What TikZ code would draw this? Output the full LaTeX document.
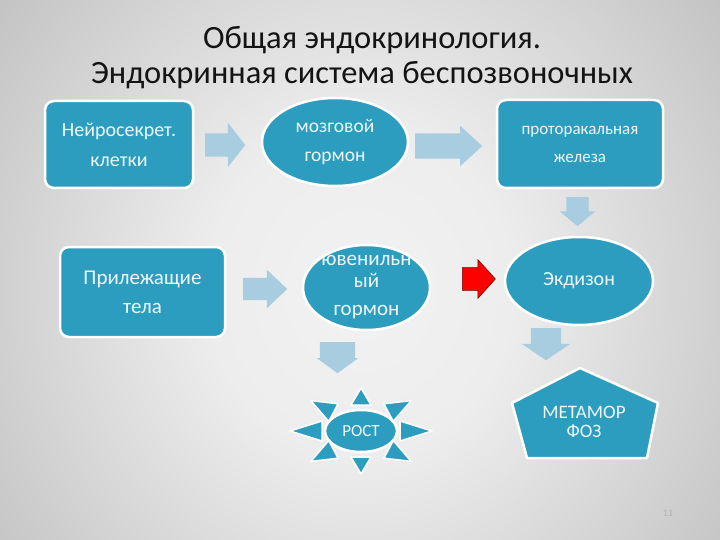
\documentclass[tikz,border=0pt]{standalone}
\usepackage{fontspec}
\setmainfont{Carlito}
\usepackage{tikz}
\usetikzlibrary{shapes.geometric, shapes.arrows, calc}
\definecolor{boxteal}{HTML}{2C9DBF}
\definecolor{arrowblue}{HTML}{A8CCE0}
\definecolor{labelwhite}{HTML}{EEF8FB}
\definecolor{titleblack}{HTML}{141414}
\definecolor{bgin}{HTML}{F2F2F2}
\definecolor{bgmid}{HTML}{EDEDED}
\definecolor{bgout}{HTML}{989898}
\definecolor{bgedge}{HTML}{828282}
\pgfdeclareradialshading{slidebg}{\pgfpoint{0bp}{0bp}}{color(0bp)=(bgin); color(10bp)=(bgmid); color(50bp)=(bgout); color(75bp)=(bgedge)}
\tikzset{cellbox/.style={rectangle,draw=white,line width=2.5pt,fill=boxteal,rounded corners=9pt,text=labelwhite,align=center},
         cellround/.style={ellipse,draw=white,line width=2.5pt,fill=boxteal,inner sep=0pt},
         cellshape/.style={draw=white,line width=2.5pt,fill=boxteal,line join=round},
         celltext/.style={text=labelwhite,align=center},
         ray/.style={draw=white,line width=1.5pt,fill=boxteal,line join=round},
         blockarrow/.style={single arrow,draw=none,fill=arrowblue,inner xsep=0pt,anchor=tail},
         titletext/.style={text=titleblack,font=\fontsize{32.5}{35}\selectfont}}

\begin{document}
\begin{tikzpicture}[x=1pt,y=-1pt]
    % Slide background
    \useasboundingbox (0,0) rectangle (720,540);
    \begin{scope}
      \clip (0,0) rectangle (720,540);
      \shade[shading=slidebg] (-20,-120) rectangle (740,700);
    \end{scope}
    % Title
    \node (title1) [titletext] at (372,40) {Общая эндокринология.};
    \node (title2) [titletext] at (362,75) {Эндокринная система беспозвоночных};
    % Top row
    \node (neuro) [cellbox, minimum width=148pt, minimum height=87pt, font=\fontsize{20}{30}\selectfont] at (119,144.5) {Нейросекрет.\\клетки};
    \node (brain) [cellround, minimum width=146pt, minimum height=88pt] at (335,142) {};
    \node (brainlabel) [celltext, font=\fontsize{19.5}{29}\selectfont] at (brain) {мозговой\\гормон};
    \node (gland) [cellbox, minimum width=166pt, minimum height=88pt, font=\fontsize{17}{28}\selectfont] at (580,144) {проторакальная\\железа};
    % Middle row
    \node (corpora) [cellbox, minimum width=165pt, minimum height=90pt, font=\fontsize{21}{29}\selectfont] at (142.5,292) {Прилежащие\\тела};
    \node (juvenile) [cellround, minimum width=127pt, minimum height=85pt] at (366.5,287.5) {};
    \node (juvenilelabel) [celltext, font=\fontsize{21}{22}\selectfont] at (juvenile) {ювенильн\\ый\\[6pt]гормон};
    \node (ecdysone) [cellround, minimum width=148pt, minimum height=88pt] at (579,281) {};
    \node (ecdysonelabel) [celltext, font=\fontsize{20}{24}\selectfont] at (ecdysone) {Экдизон};
    % Growth (sun)
    \coordinate (star) at (361,431);
    \foreach \a in {0,45,...,315} {
      \path ($(star)+(\a:71pt and 43pt)$) coordinate (raytip)
            ($(star)+(\a:39pt and 26pt)$) coordinate (raybase);
      \draw[ray] ($(raybase)!10pt!90:(raytip)$) -- (raytip) -- ($(raybase)!10pt!-90:(raytip)$) -- cycle;
    }
    \node (growth) [cellround, minimum width=72pt, minimum height=42pt] at (star) {};
    \node (growthlabel) [celltext, font=\fontsize{17}{20}\selectfont] at (growth) {РОСТ};
    % Metamorphosis (pentagon)
    \draw[cellshape] (580,368) -- (658,403) -- (647,458) -- (527,458) -- (512,403) -- cycle;
    \node (metamorph) [celltext, font=\fontsize{19}{19}\selectfont] at (584,422) {МЕТАМОР\\ФОЗ};
    % Block arrows
    \node (arr1) [blockarrow, minimum height=40pt, inner ysep=11.5pt, single arrow head extend=10.5pt, single arrow tip angle=104] at (205,145) {};
    \node (arr2) [blockarrow, minimum height=67pt, inner ysep=12.5pt, single arrow head extend=7.5pt, single arrow tip angle=85] at (415,146) {};
    \node (arr3) [blockarrow, minimum height=44pt, inner ysep=11pt, single arrow head extend=8pt, single arrow tip angle=87] at (243,289) {};
    \node (arrred) [blockarrow, fill=red, draw=red!45!black, line width=0.6pt, minimum height=33pt, inner ysep=11pt, single arrow head extend=8pt, single arrow tip angle=96] at (462,279) {};
    \node (down1) [blockarrow, rotate=-90, minimum height=29pt, inner ysep=11pt, single arrow head extend=6.5pt, single arrow tip angle=100] at (577.5,197) {};
    \node (down2) [blockarrow, rotate=-90, minimum height=32pt, inner ysep=15pt, single arrow head extend=9pt, single arrow tip angle=112] at (546,328) {};
    \node (down3) [blockarrow, rotate=-90, minimum height=31pt, inner ysep=17.5pt, single arrow head extend=3pt, single arrow tip angle=108] at (337.5,342) {};
    % Slide number
    \node (pagenum) [text=white!70!black, font=\fontsize{10}{12}\selectfont] at (668,513) {11};
  \end{tikzpicture}
\end{document}
